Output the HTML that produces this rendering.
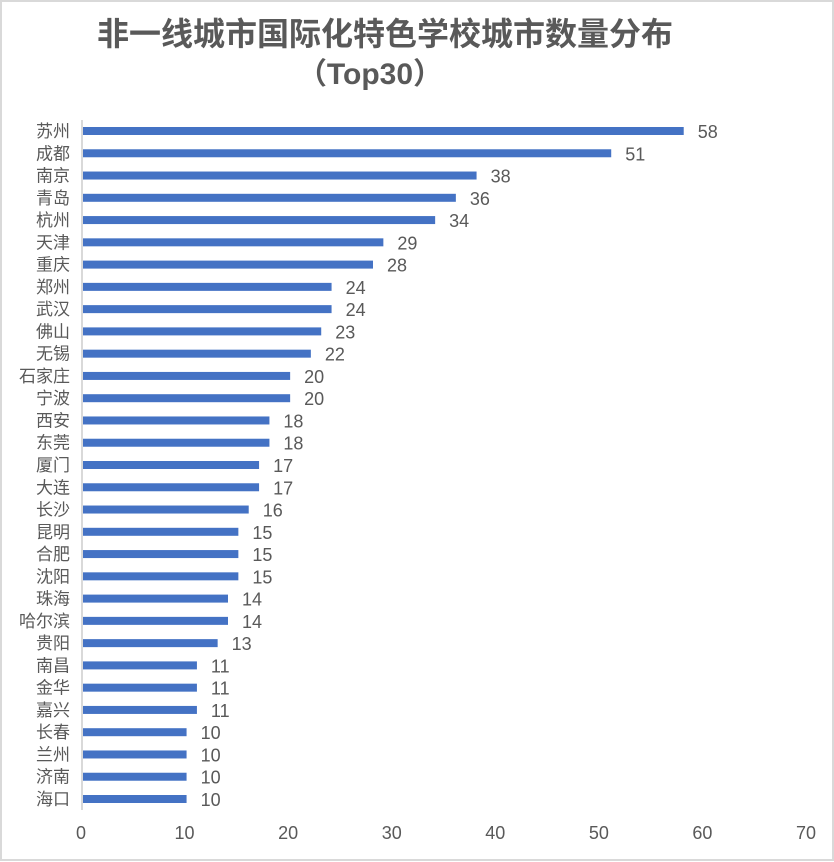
<!DOCTYPE html>
<html><head><meta charset="utf-8"><style>
html,body{margin:0;padding:0;background:#fff}
svg{display:block}
text{font-family:"Liberation Sans","Noto Sans CJK SC",sans-serif;fill:#595959}
</style></head><body>
<svg id="c" width="834" height="862">
<rect x="1" y="1" width="832" height="859" fill="#fff" stroke="#d9d9d9" stroke-width="2"/>
<text x="385" y="45" text-anchor="middle" font-size="32" font-weight="bold">非一线城市国际化特色学校城市数量分布</text>
<text x="370" y="84" text-anchor="middle" font-size="30" font-weight="bold">（Top30）</text>
<g id="bars"></g>
<line x1="82" y1="120" x2="82" y2="810" stroke="#d9d9d9" stroke-width="2"/>
</svg>
<script>
const categories=["苏州","成都","南京","青岛","杭州","天津","重庆","郑州","武汉","佛山","无锡","石家庄","宁波","西安","东莞","厦门","大连","长沙","昆明","合肥","沈阳","珠海","哈尔滨","贵阳","南昌","金华","嘉兴","长春","兰州","济南","海口"];
const values=[58,51,38,36,34,29,28,24,24,23,22,20,20,18,18,17,17,16,15,15,15,14,14,13,11,11,11,10,10,10,10];
const ticks=[0,10,20,30,40,50,60,70];
const NS="http://www.w3.org/2000/svg";
const g=document.getElementById('bars');
const x0=83,x1=808,yTop=131,yBot=799;
function xs(v){return x0+(x1-x0)*v/70;}
const step=(yBot-yTop)/(categories.length-1);
function ys(i){return yTop+i*step;}
categories.forEach((c,i)=>{
  const y=ys(i);
  const r=document.createElementNS(NS,'rect');
  r.setAttribute('x',x0);r.setAttribute('y',y-4);r.setAttribute('width',xs(values[i])-x0);r.setAttribute('height',8);r.setAttribute('fill','#4472C4');
  
  
  g.appendChild(r);
  const l=document.createElementNS(NS,'text');
  l.setAttribute('x',70);l.setAttribute('y',y+6);l.setAttribute('text-anchor','end');l.setAttribute('font-size','17');l.textContent=c;
  
  
  g.appendChild(l);
  const v=document.createElementNS(NS,'text');
  v.setAttribute('x',xs(values[i])+14);v.setAttribute('y',y+7);v.setAttribute('font-size','18');v.textContent=values[i];
  
  
  g.appendChild(v);
});
ticks.forEach(t=>{
  const l=document.createElementNS(NS,'text');
  l.setAttribute('x',xs(t)-2);l.setAttribute('y',839);l.setAttribute('text-anchor','middle');l.setAttribute('font-size','18');l.textContent=t;
  
  
  g.appendChild(l);
});
</script>
</body></html>
